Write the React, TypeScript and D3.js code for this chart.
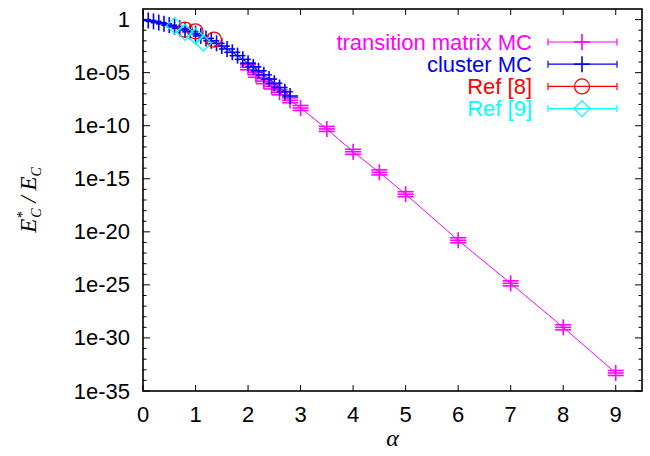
import React from "react";
import * as d3 from "d3";

const W = 650;
const H = 456;

// transition matrix MC (magenta)
const tmAlpha = [2.0, 2.15, 2.3, 2.45, 2.6, 2.8, 3.0, 3.5, 4.0, 4.5, 5.0, 6.0, 7.0, 8.0, 9.0];
const tmValue = [3.2e-5, 6.3e-6, 1.6e-6, 5.0e-7, 1.4e-7, 2.5e-8, 4.7e-9, 5.0e-11, 3.5e-13, 4.0e-15, 3.5e-17, 1.6e-21, 1.4e-25, 1.0e-29, 5.0e-34];

// cluster MC (blue)
const clAlpha = [0, 0.1, 0.2, 0.3, 0.4, 0.5, 0.6, 0.7, 0.8, 0.9, 1.0, 1.1, 1.2, 1.3, 1.4, 1.5, 1.6, 1.7, 1.8, 1.9, 2.0, 2.1, 2.2, 2.3, 2.4, 2.5, 2.6, 2.7, 2.8];
const clValue = [1, 0.83, 0.68, 0.52, 0.4, 0.3, 0.21, 0.15, 0.105, 0.071, 0.046, 0.029, 0.017, 0.01, 5.8e-3, 3.2e-3, 1.7e-3, 8.3e-4, 4.0e-4, 1.8e-4, 7.9e-5, 3.5e-5, 1.5e-5, 6.2e-6, 2.5e-6, 1.0e-6, 4.0e-7, 1.6e-7, 6.3e-8];

// Ref [8] (red circles)
const r8Alpha = [0.8, 1.0, 1.35];
const r8Value = [0.115, 0.079, 0.013];

// Ref [9] (cyan diamonds)
const r9Alpha = [0.6, 0.8, 1.0, 1.15];
const r9Value = [0.27, 0.063, 0.027, 6.3e-3];

const xTicks = [0, 1, 2, 3, 4, 5, 6, 7, 8, 9];
const yMajorExp = [0, -5, -10, -15, -20, -25, -30, -35];
const yTickLabels = ["1", "1e-05", "1e-10", "1e-15", "1e-20", "1e-25", "1e-30", "1e-35"];

const legendLabels = ["transition matrix MC", "cluster MC", "Ref [8]", "Ref [9]"];
const legendColors = ["#ff00ff", "#0000ff", "#ff0000", "#00ffff"];

const L = 143, R = 642, T = 9, B = 391;
const FONT = "'Liberation Sans', Arial, Helvetica, sans-serif";
const SERIF = "'Liberation Serif', 'Times New Roman', serif";

export default function App() {
  const x = d3.scaleLinear().domain([0, 9.5]).range([L, R]);
  const y = d3.scaleLog().domain([1e-35, 10]).range([B, T]);

  const line = d3.line<[number, number]>().x(d => x(d[0])).y(d => y(d[1]));
  const tmPts: [number, number][] = tmAlpha.map((a, i) => [a, tmValue[i]]);
  const clPts: [number, number][] = clAlpha.map((a, i) => [a, clValue[i]]);
  const r8Pts: [number, number][] = r8Alpha.map((a, i) => [a, r8Value[i]]);
  const r9Pts: [number, number][] = r9Alpha.map((a, i) => [a, r9Value[i]]);

  const plus = (cx: number, cy: number, c: string, k: string, caps: boolean) => (
    <g key={k} stroke={c} strokeWidth={1.6}>
      <line x1={cx - 8} x2={cx + 8} y1={cy} y2={cy} />
      <line x1={cx} x2={cx} y1={cy - 8} y2={cy + 8} />
      {caps && <line x1={cx - 8} x2={cx + 8} y1={cy - 2.5} y2={cy - 2.5} />}
      {caps && <line x1={cx - 8} x2={cx + 8} y1={cy + 2.5} y2={cy + 2.5} />}
    </g>
  );
  const circle = (cx: number, cy: number, c: string, k: string) => (
    <circle key={k} cx={cx} cy={cy} r={7.5} fill="none" stroke={c} strokeWidth={1.3} />
  );
  const diamond = (cx: number, cy: number, c: string, k: string) => (
    <path key={k} d={`M${cx},${cy - 8}L${cx + 8},${cy}L${cx},${cy + 8}L${cx - 8},${cy}Z`} fill="none" stroke={c} strokeWidth={1.3} />
  );

  const yMinor: number[] = [];
  for (let e = -34; e <= 0; e++) if (!yMajorExp.includes(e)) yMinor.push(e);

  return (
    <svg width={W} height={H} style={{ position: "absolute", left: 0, top: 0, background: "#fff" }}>
      <rect x={0} y={0} width={W} height={H} fill="#fff" />
      <defs>
        <clipPath id="plotclip">
          <rect x={L} y={T} width={R - L} height={B - T} />
        </clipPath>
      </defs>

      {/* ticks */}
      <g stroke="#000" strokeWidth={1}>
        {xTicks.map(t => (
          <g key={"xt" + t}>
            <line x1={x(t)} x2={x(t)} y1={B} y2={B - 6} />
            <line x1={x(t)} x2={x(t)} y1={T} y2={T + 6} />
          </g>
        ))}
        {yMajorExp.map(e => (
          <g key={"ym" + e}>
            <line x1={L} x2={L + 7} y1={y(Math.pow(10, e))} y2={y(Math.pow(10, e))} />
            <line x1={R} x2={R - 7} y1={y(Math.pow(10, e))} y2={y(Math.pow(10, e))} />
          </g>
        ))}
        {yMinor.map(e => (
          <g key={"yn" + e}>
            <line x1={L} x2={L + 3.5} y1={y(Math.pow(10, e))} y2={y(Math.pow(10, e))} />
            <line x1={R} x2={R - 3.5} y1={y(Math.pow(10, e))} y2={y(Math.pow(10, e))} />
          </g>
        ))}
      </g>

      {/* tick labels */}
      <g fontFamily={FONT} fontSize={22} fill="#000">
        {xTicks.map(t => (
          <text key={"xl" + t} x={x(t)} y={422} textAnchor="middle">{t}</text>
        ))}
        {yMajorExp.map((e, i) => (
          <text key={"yl" + e} x={130} y={y(Math.pow(10, e)) + 7.5} textAnchor="end">{yTickLabels[i]}</text>
        ))}
      </g>

      {/* axis titles */}
      <text x={(L + R) / 2} y={446} textAnchor="middle" fontFamily={SERIF} fontStyle="italic" fontSize={24}>α</text>
      <text transform={`translate(36,${(T + B) / 2}) rotate(-90)`} textAnchor="middle" fontFamily={SERIF} fontStyle="italic" fontSize={23}>
        <tspan>E</tspan>
        <tspan fontSize={14} dy={-9}>*</tspan>
        <tspan fontSize={14} dx={-6} dy={14}>C</tspan>
        <tspan dy={-5}> / E</tspan>
        <tspan fontSize={14} dy={5}>C</tspan>
      </text>

      {/* data */}
      <g clipPath="url(#plotclip)">
        <path d={line(tmPts) || ""} fill="none" stroke="#ff00ff" strokeWidth={1} />
        {tmPts.map((p, i) => plus(x(p[0]), y(p[1]), "#ff00ff", "tm" + i, true))}
        <path d={line(clPts) || ""} fill="none" stroke="#0000ff" strokeWidth={1} />
        {clPts.map((p, i) => plus(x(p[0]), y(p[1]), "#0000ff", "cl" + i, false))}
        {r8Pts.map((p, i) => circle(x(p[0]), y(p[1]), "#ff0000", "r8" + i))}
        {r9Pts.map((p, i) => diamond(x(p[0]), y(p[1]), "#00ffff", "r9" + i))}
      </g>

      {/* legend */}
      <g fontFamily={FONT} fontSize={22}>
        {legendLabels.map((lab, i) => {
          const cy = 42 + i * 22.2;
          const c = legendColors[i];
          const mx = 582;
          return (
            <g key={"lg" + i}>
              <text x={532} y={cy + 7.5} textAnchor="end" fill={c}>{lab}</text>
              <g stroke={c} strokeWidth={1.2}>
                <line x1={548} x2={617} y1={cy} y2={cy} />
                <line x1={548} x2={548} y1={cy - 3.5} y2={cy + 3.5} />
                <line x1={617} x2={617} y1={cy - 3.5} y2={cy + 3.5} />
              </g>
              {i === 0 && plus(mx, cy, c, "lp0", false)}
              {i === 1 && plus(mx, cy, c, "lp1", false)}
              {i === 2 && circle(mx, cy, c, "lp2")}
              {i === 3 && diamond(mx, cy, c, "lp3")}
            </g>
          );
        })}
      </g>

      {/* frame */}
      <rect x={L} y={T} width={R - L} height={B - T} fill="none" stroke="#000" strokeWidth={1.6} />
    </svg>
  );
}
